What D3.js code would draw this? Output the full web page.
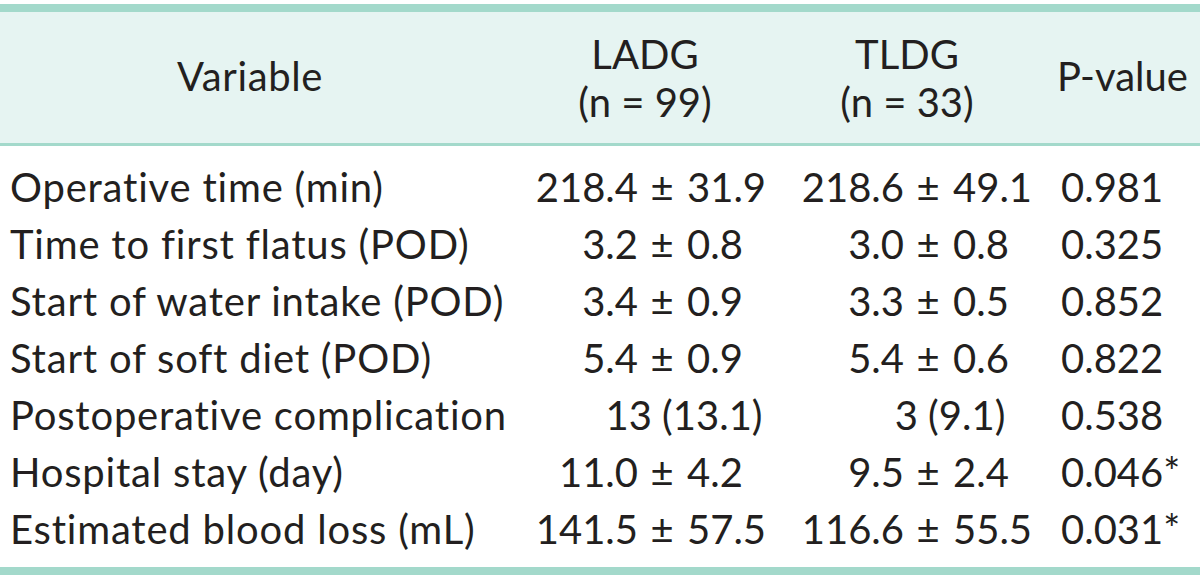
<!DOCTYPE html>
<html>
<head>
<meta charset="utf-8">
<script src="https://cdn.jsdelivr.net/npm/d3@7"></script>
<style>
  html, body { margin: 0; padding: 0; background: #ffffff; }
  svg { display: block; }
</style>
</head>
<body>
<svg id="chart" width="1200" height="578"></svg>
<script>
// ---- data ----
const headers = ["Variable", "LADG", "TLDG", "P-value"];
const groupSizes = ["(n = 99)", "(n = 33)"];
const variables = [
  "Operative time (min)",
  "Time to first flatus (POD)",
  "Start of water intake (POD)",
  "Start of soft diet (POD)",
  "Postoperative complication",
  "Hospital stay (day)",
  "Estimated blood loss (mL)"
];
const ladgValues = ["218.4 ± 31.9", "3.2 ± 0.8", "3.4 ± 0.9", "5.4 ± 0.9", "13 (13.1)", "11.0 ± 4.2", "141.5 ± 57.5"];
const tldgValues = ["218.6 ± 49.1", "3.0 ± 0.8", "3.3 ± 0.5", "5.4 ± 0.6", "3 (9.1)", "9.5 ± 2.4", "116.6 ± 55.5"];
const pValues = ["0.981", "0.325", "0.852", "0.822", "0.538", "0.046*", "0.031*"];

// ---- layout ----
const W = 1200, H = 578;
const FONT = "Lato, 'Open Sans', sans-serif";
const FS = 40;
const TEXT = "#231f20";
const TEAL = "#a3d9cb";
const HEADER_BG = "#e6f4f2";

const svg = d3.select("#chart");

// row scale (baselines)
const y = d3.scalePoint().domain(variables).range([202, 544]);

// column anchors
const col = {
  varX: 10,
  varHeaderX: 250,
  ladgPm: 662,
  tldgPm: 928,
  ladgHeader: 645,
  tldgHeader: 907,
  pX: 1061
};

// header background + rules
svg.append("rect").attr("x", 0).attr("y", 11).attr("width", W).attr("height", 133).attr("fill", HEADER_BG);
svg.append("rect").attr("x", 0).attr("y", 4).attr("width", W).attr("height", 8).attr("fill", TEAL);
svg.append("rect").attr("x", 0).attr("y", 143).attr("width", W).attr("height", 3).attr("fill", TEAL);
svg.append("rect").attr("x", 0).attr("y", 567).attr("width", W).attr("height", 8).attr("fill", TEAL);

const g = svg.append("g")
  .attr("font-family", FONT)
  .attr("font-size", FS)
  .attr("fill", TEXT);

// header texts
g.append("text").attr("x", col.varHeaderX).attr("y", 91).attr("text-anchor", "middle")
  .attr("letter-spacing", 0.6).text(headers[0]);

[[headers[1], groupSizes[0], col.ladgHeader], [headers[2], groupSizes[1], col.tldgHeader]].forEach(([h, n, x]) => {
  g.append("text").attr("x", x).attr("y", 69).attr("text-anchor", "middle").text(h);
  g.append("text").attr("x", x).attr("y", 117).attr("text-anchor", "middle").text(n);
});
g.append("text").attr("x", col.pX - 4).attr("y", 91).attr("text-anchor", "start").text(headers[3]);

// variable labels
g.selectAll("text.var").data(variables).join("text")
  .attr("class", "var")
  .attr("x", col.varX)
  .attr("y", d => y(d))
  .attr("letter-spacing", 0.8)
  .text(d => d);

// value cells aligned on ±
function drawValues(values, pmX, cls) {
  const rows = values.map((v, i) => ({ v, row: variables[i] }));
  const cells = g.selectAll("g." + cls).data(rows).join("g").attr("class", cls)
    .attr("transform", d => `translate(0,${y(d.row)})`);
  cells.each(function(d) {
    const cell = d3.select(this);
    if (d.v.includes("±")) {
      const [a, b] = d.v.split("±").map(s => s.trim());
      cell.append("text").attr("x", pmX - 24).attr("text-anchor", "end").text(a);
      cell.append("text").attr("x", pmX).attr("text-anchor", "middle").text("±");
      cell.append("text").attr("x", pmX + 25).attr("text-anchor", "start").text(b);
    } else {
      cell.append("text").attr("x", pmX + 22).attr("text-anchor", "middle").text(d.v);
    }
  });
}
drawValues(ladgValues, col.ladgPm, "ladg");
drawValues(tldgValues, col.tldgPm, "tldg");

// p-values
g.selectAll("text.pval").data(pValues).join("text")
  .attr("class", "pval")
  .attr("x", col.pX)
  .attr("y", (d, i) => y(variables[i]))
  .text(d => d);
</script>
</body>
</html>
